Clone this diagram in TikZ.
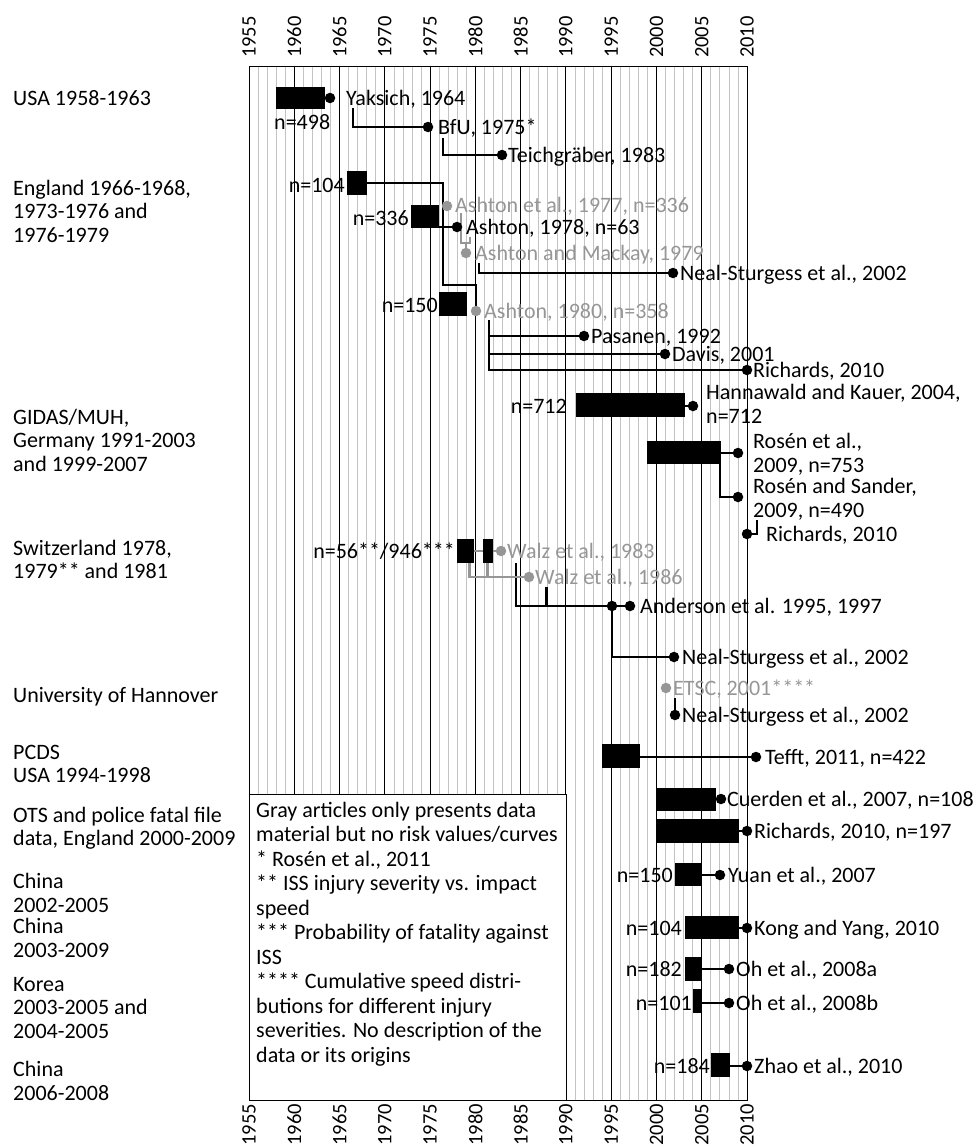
\documentclass[tikz,border=0pt]{standalone}
\usepackage{fontspec}
\setmainfont{Carlito}
\definecolor{gr}{RGB}{150,150,150}
\definecolor{gridc}{RGB}{195,195,195}
\newcommand\fsz{\fontsize{22}{23.5}\selectfont}
\newcommand\yfsz{\fontsize{20.5}{23}\selectfont}
\newcommand\legfsz{\fontsize{22}{24.5}\selectfont}
\pgfdeclarelayer{gridlayer}
\pgfdeclarelayer{connlayer}
\pgfsetlayers{gridlayer,connlayer,main}
\begin{document}
\begin{tikzpicture}[x=1pt,y=-1pt,
  lab/.style={font=\fsz, inner sep=0pt, anchor=base west, align=left},
  labr/.style={font=\fsz, inner sep=0pt, anchor=base east, align=right},
  glab/.style={lab, text=gr},
  yl/.style={font=\yfsz, inner sep=0pt, rotate=90},
  dot/.style={circle, fill=black, inner sep=0pt, minimum size=10.5pt},
  gdot/.style={dot, fill=gr},
  bx/.style={fill=black, inner sep=0pt, outer sep=0pt, anchor=north west},
  ln/.style={line width=2.3pt},
  gln/.style={line width=2.3pt, draw=gr},
  minor/.style={draw=gridc, line width=0.7pt},
  major/.style={draw=black, line width=1.1pt},
]
\useasboundingbox (0,0) rectangle (976,1148);
\begin{pgfonlayer}{gridlayer}
% grid
\foreach \k in {1,...,54}{%
  \pgfmathtruncatemacro\m{mod(\k,5)}%
  \ifnum\m>0 \draw[minor] ({249+\k*9.0545},66) -- ({249+\k*9.0545},1100);\fi}
\foreach \k in {5,10,...,50}{\draw[major] ({249+\k*9.0545},66) -- ({249+\k*9.0545},1100);}
% legend box
\node[draw, fill=white, line width=1.1pt, inner sep=0pt, anchor=north west,
      minimum width=317pt, minimum height=306pt] (legbox) at (249,794) {};
% frame
\node[draw, line width=1.3pt, inner sep=0pt, anchor=north west,
      minimum width=498pt, minimum height=1034pt] (frame) at (249,66) {};
\end{pgfonlayer}
% year labels
\foreach \k in {0,...,11}{%
  \pgfmathtruncatemacro\yy{1955+5*\k}%
  \node[yl, anchor=west] (yt\k) at ({249+\k*45.2727},58) {\yy};
  \node[yl, anchor=east] (yb\k) at ({249+\k*45.2727},1104) {\yy};}

% left labels (base = baseline of last line)
\node[lab] (tUSA) at (13,105) {USA 1958-1963};
\node[lab] (tEng) at (13,242) {England 1966-1968,\\1973-1976 and\\1976-1979};
\node[lab] (tGid) at (13,471) {GIDAS/MUH,\\Germany 1991-2003\\and 1999-2007};
\node[lab] (tSwi) at (13,578.5) {Switzerland 1978,\\1979** and 1981};
\node[lab] (tHan) at (13,702) {University of Hannover};
\node[lab] (tPcd) at (13,782.5) {PCDS\\USA 1994-1998};
\node[lab] (tOts) at (13,845.5) {OTS and police fatal file\\data, England 2000-2009};
\node[lab] (tCh1) at (13,912) {China\\2002-2005};
\node[lab] (tCh2) at (13,957) {China\\2003-2009};
\node[lab] (tKor) at (13,1038) {Korea\\2003-2005 and\\2004-2005};
\node[lab] (tCh3) at (13,1100) {China\\2006-2008};

% legend text
\node[lab, font=\legfsz] (leg) at (256,1062) {Gray articles only presents data\\material but no risk values/curves\\{}* Rosén et al., 2011\\{}** ISS injury severity vs. impact\\speed\\{}*** Probability of fatality against\\ISS\\{}**** Cumulative speed distri-\\butions for different injury\\severities. No description of the\\data or its origins};

% dots
\node[dot] (dYak) at (330,98) {};
\node[dot] (dBfU) at (428,127) {};
\node[dot] (dTei) at (502,155) {};
\node[gdot] (dA77) at (447,206) {};
\node[dot] (dA78) at (457,227) {};
\node[gdot] (dAM79) at (466,253) {};
\node[dot] (dNS1) at (673,273) {};
\node[gdot] (dA80) at (476,311) {};
\node[dot] (dPas) at (584,336) {};
\node[dot] (dDav) at (665,354) {};
\node[dot] (dRi1) at (747,370) {};
\node[dot] (dHan) at (693,406) {};
\node[dot] (dRos) at (738,453) {};
\node[dot] (dRS) at (738,497) {};
\node[dot] (dRi2) at (747,534) {};
\node[gdot] (dW83) at (501,551) {};
\node[gdot] (dW86) at (529,577) {};
\node[dot] (dAn95) at (612,606) {};
\node[dot] (dAn97) at (630,606) {};
\node[dot] (dNS2) at (674,657) {};
\node[gdot] (dETSC) at (666,688) {};
\node[dot] (dNS3) at (675,715) {};
\node[dot] (dTef) at (756,757) {};
\node[dot] (dCue) at (721,799) {};
\node[dot] (dRi3) at (747,831) {};
\node[dot] (dYuan) at (720,875) {};
\node[dot] (dKong) at (747,928) {};
\node[dot] (dOhA) at (729,969) {};
\node[dot] (dOhB) at (729,1003) {};
\node[dot] (dZhao) at (747,1066) {};

% boxes
\node[bx, minimum width=49pt, minimum height=22pt] (bU) at (276,87) {};
\node[bx, minimum width=20pt, minimum height=24pt] (bE1) at (347,171) {};
\node[bx, minimum width=28pt, minimum height=23pt] (bE2) at (411,205) {};
\node[bx, minimum width=28pt, minimum height=24pt] (bE3) at (439,292) {};
\node[bx, minimum width=109pt, minimum height=24pt] (bG1) at (576,393) {};
\node[bx, minimum width=74pt, minimum height=23pt] (bG2) at (647,441) {};
\node[bx, minimum width=17pt, minimum height=24pt] (bS1) at (457,539) {};
\node[bx, minimum width=10pt, minimum height=24pt] (bS2) at (483,539) {};
\node[bx, minimum width=38pt, minimum height=24pt] (bP) at (602,744) {};
\node[bx, minimum width=59pt, minimum height=23pt] (bO1) at (657,788) {};
\node[bx, minimum width=82pt, minimum height=24pt] (bO2) at (657,819) {};
\node[bx, minimum width=27pt, minimum height=23pt] (bC1) at (675,863) {};
\node[bx, minimum width=54pt, minimum height=23pt] (bC2) at (685,916) {};
\node[bx, minimum width=17pt, minimum height=24pt] (bK1) at (685,957) {};
\node[bx, minimum width=9pt, minimum height=24pt] (bK2) at (693,989) {};
\node[bx, minimum width=19pt, minimum height=24pt] (bC3) at (711,1053) {};

% connectors
\coordinate (cY) at (353,108);
\coordinate (cB) at (443,138);
\coordinate (e1a) at (443,285);
\coordinate (cM) at (479,263);
\coordinate (cA80) at (489,320);
\coordinate (cG2) at (720,463);
\coordinate (cR2) at (757,520);
\coordinate (cW83) at (516,563);
\coordinate (cW86) at (546.5,587);
\coordinate (cE) at (675,698);
\coordinate (gb1) at (461,213);
\coordinate (gb2) at (470,237);
\coordinate (gbm) at (466,243);
\coordinate (cS1) at (469.5,563);
\coordinate (cS2) at (487.5,563);
\begin{pgfonlayer}{connlayer}
\draw[ln] (cY) |- (dBfU);
\draw[ln] (cB) |- (dTei);
\draw[ln] (bE1.east) -| (e1a) -| (dA80.north);
\draw[ln] (bE2.east |- dA78) -- (dA78);
\draw[ln] (cM) |- (dNS1);
\draw[ln] (cA80) |- (dPas);
\draw[ln] (cA80) |- (dDav);
\draw[ln] (cA80) |- (dRi1);
\draw[ln] (bG1.east |- dHan) -- (dHan);
\draw[ln] (bG2.east |- dRos) -- (dRos);
\draw[ln] (cG2) |- (dRS);
\draw[ln] (cR2) |- (dRi2);
\draw[ln] (cW83) |- (dAn95);
\draw[ln] (cW86) -- (cW86 |- dAn95);
\draw[ln] (dAn95) -- (dAn97);
\draw[ln] (dAn95) |- (dNS2);
\draw[ln] (cE) -- (dNS3);
\draw[ln] (bP.east |- dTef) -- (dTef);
\draw[ln] (bO1.east |- dCue) -- (dCue);
\draw[ln] (bO2.east |- dRi3) -- (dRi3);
\draw[ln] (bC1.east |- dYuan) -- (dYuan);
\draw[ln] (bC2.east |- dKong) -- (dKong);
\draw[ln] (bK1.east |- dOhA) -- (dOhA);
\draw[ln] (bK2.east |- dOhB) -- (dOhB);
\draw[ln] (bC3.east |- dZhao) -- (dZhao);
\draw[gln] (gb1) |- (gbm) -| (gb2);
\draw[gln] (gbm) -- (dAM79);
\draw[gln] (bS1.east |- dW83) -- (dW83);
\draw[gln] (cS1) |- (dW86);
\draw[gln] (cS2) -- (cS2 |- dW86);
\end{pgfonlayer}

% labels
\node[lab] (lYak) at (346,105) {Yaksich, 1964};
\node[lab] (lN498) at (274,129) {n=498};
\node[lab] (lBfU) at (438,134) {BfU, 1975*};
\node[lab] (lTei) at (508,162) {Teichgräber, 1983};
\node[labr] (lN104) at (345,192) {n=104};
\node[labr] (lN336) at (409,225) {n=336};
\node[glab] (lA77) at (455,212) {Ashton et al., 1977, n=336};
\node[lab] (lA78) at (466,234) {Ashton, 1978, n=63};
\node[glab] (lAM) at (475,260) {Ashton and Mackay, 1979};
\node[lab] (lNS1) at (680,280) {Neal-Sturgess et al., 2002};
\node[labr] (lN150) at (438,312) {n=150};
\node[glab] (lA80) at (484,318) {Ashton, 1980, n=358};
\node[lab] (lPas) at (591,343) {Pasanen, 1992};
\node[lab] (lDav) at (672,361) {Davis, 2001};
\node[lab] (lRi1) at (753,377) {Richards, 2010};
\node[labr] (lN712) at (567,413) {n=712};
\node[lab] (lHan) at (706,423) {Hannawald and Kauer, 2004,\\n=712};
\node[lab] (lRos) at (753,472) {Rosén et al.,\\2009, n=753};
\node[lab] (lRS) at (753,517) {Rosén and Sander,\\2009, n=490};
\node[lab] (lRi2) at (766,541) {Richards, 2010};
\node[labr] (lN56) at (455,558) {n=56**/946***};
\node[glab] (lW83) at (507,558) {Walz et al., 1983};
\node[glab] (lW86) at (535,584) {Walz et al., 1986};
\node[lab] (lAnd) at (640,613) {Anderson et al. 1995, 1997};
\node[lab] (lNS2) at (682,664) {Neal-Sturgess et al., 2002};
\node[glab] (lETSC) at (673,695) {ETSC, 2001****};
\node[lab] (lNS3) at (682,722) {Neal-Sturgess et al., 2002};
\node[lab] (lTef) at (765,764) {Tefft, 2011, n=422};
\node[lab] (lCue) at (727,806) {Cuerden et al., 2007, n=108};
\node[lab] (lRi3) at (754,838) {Richards, 2010, n=197};
\node[labr] (lN150b) at (673,882) {n=150};
\node[lab] (lYuan) at (728,882) {Yuan et al., 2007};
\node[labr] (lN104b) at (682,935) {n=104};
\node[lab] (lKong) at (754,935) {Kong and Yang, 2010};
\node[labr] (lN182) at (682,976) {n=182};
\node[lab] (lOhA) at (736,976) {Oh et al., 2008a};
\node[labr] (lN101) at (692,1010) {n=101};
\node[lab] (lOhB) at (736,1010) {Oh et al., 2008b};
\node[labr] (lN184) at (710,1073) {n=184};
\node[lab] (lZhao) at (754,1073) {Zhao et al., 2010};
\end{tikzpicture}
\end{document}
